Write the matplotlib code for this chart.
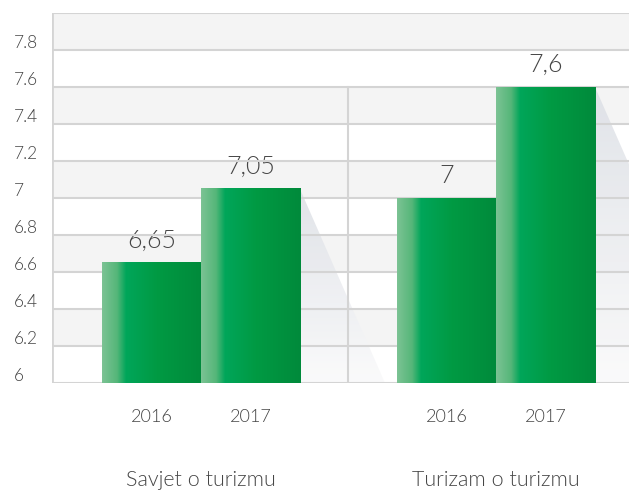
import numpy as np
import matplotlib
matplotlib.use("Agg")
import matplotlib.pyplot as plt
from matplotlib.colors import LinearSegmentedColormap
from matplotlib.patches import Polygon

plt.rcParams["font.family"] = ["Lato", "DejaVu Sans"]
plt.rcParams["font.weight"] = 300

# podaci
groups = ["Savjet o turizmu", "Turizam o turizmu"]
years = ["2016", "2017"]
values = [[6.65, 7.05], [7.0, 7.6]]
value_labels = [["6,65", "7,05"], ["7", "7,6"]]
yticks = [6, 6.2, 6.4, 6.6, 6.8, 7, 7.2, 7.4, 7.6, 7.8]
ytick_labels = ["6", "6.2", "6.4", "6.6", "6.8", "7", "7.2", "7.4", "7.6", "7.8"]

ymin, ymax = 6.0, 8.0
bar_w = 0.336
text_col = "#454545"
grid_col = "#d4d4d4"

fig = plt.figure(figsize=(6.29, 4.93), dpi=100)
ax = fig.add_axes([52 / 629, 110 / 493, 577 / 629, 370 / 493])
ax.set_xlim(-0.505, 1.451)
ax.set_ylim(ymin, ymax)
ax.axis("off")

# naizmjenične trake u pozadini (od vrha: siva, bijela, ...)
for y0 in np.arange(ymin, ymax, 0.2):
    if (round((ymax - y0) / 0.2) - 1) % 2 == 0:
        ax.axhspan(y0, y0 + 0.2, color="#f4f4f4", lw=0, zorder=0)

for t in yticks + [8.0]:
    ax.axhline(t, color=grid_col, lw=1.5, zorder=4)
ax.axhline(ymin, color=grid_col, lw=2, zorder=4)
ax.axvline(-0.505, color=grid_col, lw=2, zorder=4)
ax.plot([0.5, 0.5], [ymin, 7.6], color=grid_col, lw=1.5, zorder=4)

# oznake na y osi
for t, lab in zip(yticks, ytick_labels):
    ax.annotate(lab, xy=(0, t), xycoords=("axes fraction", "data"),
                xytext=(-38 * 0.72, 1.5), textcoords="offset points",
                ha="left", va="baseline", fontsize=12.5, color=text_col,
                annotation_clip=False)

green = LinearSegmentedColormap.from_list(
    "grn", [(0, "#7cc394"), (0.15, "#55b679"), (0.24, "#00a65a"),
            (0.55, "#009a43"), (1, "#008a3b")])
shade = LinearSegmentedColormap.from_list(
    "shd", [(0, "#dcdfe5"), (1, "#fafafb")])
grad_h = np.linspace(0, 1, 256).reshape(1, -1)
grad_v = np.linspace(0, 1, 256).reshape(-1, 1)
k = 0.275

for gi, (grp, vals) in enumerate(zip(groups, values)):
    for yi, v in enumerate(vals):
        x0 = gi + (yi - 1) * bar_w
        x1 = x0 + bar_w
        # sjena iza stupca
        poly = Polygon([(x1, v), (x1, ymin), (x1 + k * (v - ymin), ymin)],
                       closed=True, facecolor="none", edgecolor="none")
        ax.add_patch(poly)
        im = ax.imshow(grad_v, cmap=shade, aspect="auto", alpha=0.85,
                       extent=(x1, x1 + k * (v - ymin), ymin, v),
                       zorder=2, interpolation="bilinear")
        im.set_clip_path(poly)
        # stupac s gradijentom
        ax.imshow(grad_h, cmap=green, aspect="auto",
                  extent=(x0, x1, ymin, v), zorder=5,
                  interpolation="bilinear")
        ax.annotate(value_labels[gi][yi], xy=((x0 + x1) / 2, v),
                    xytext=(0, 7), textcoords="offset points",
                    ha="center", va="bottom", fontsize=18, color=text_col)
        ax.annotate(years[yi], xy=((x0 + x1) / 2, 0),
                    xycoords=("data", "axes fraction"),
                    xytext=(0, -34 * 0.72), textcoords="offset points",
                    ha="center", va="center", fontsize=13, color=text_col,
                    annotation_clip=False)
    ax.annotate(grp, xy=(gi, 0), xycoords=("data", "axes fraction"),
                xytext=(0, -97 * 0.72), textcoords="offset points",
                ha="center", va="center", fontsize=15.5, color=text_col,
                annotation_clip=False)

ax.set_xlim(-0.505, 1.451)
ax.set_ylim(ymin, ymax)
fig.savefig("out.png", dpi=100)
